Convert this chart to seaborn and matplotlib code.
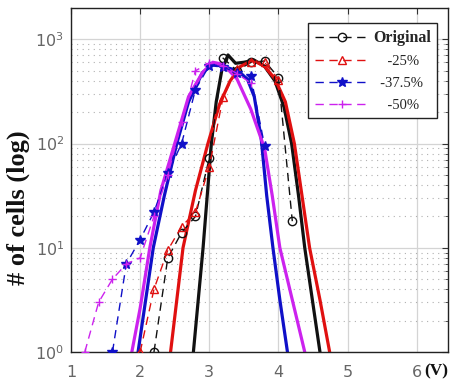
import numpy as np
import pandas as pd
import matplotlib
matplotlib.use("Agg")
import matplotlib.pyplot as plt
import matplotlib.ticker as mticker
import seaborn as sns

# Histogram counts per 0.2 V bin (dashed lines with markers)
orig_v = [2.2, 2.4, 2.6, 2.8, 3.0, 3.2, 3.4, 3.6, 3.8, 4.0, 4.2]
orig_n = [1, 8, 14, 20, 73, 660, 500, 600, 620, 430, 18]

m25_v = [2.0, 2.2, 2.4, 2.6, 2.8, 3.0, 3.2, 3.4, 3.6, 3.8, 4.0]
m25_n = [1, 4, 9.5, 16, 22, 60, 280, 520, 610, 600, 410]

m375_v = [1.6, 1.8, 2.0, 2.2, 2.4, 2.6, 2.8, 3.0, 3.2, 3.4, 3.6, 3.8]
m375_n = [1, 7, 12, 22, 52, 100, 330, 560, 540, 480, 440, 95]

m50_v = [1.2, 1.4, 1.6, 1.8, 2.0, 2.2, 2.4, 2.6, 2.8, 3.0, 3.2, 3.4, 3.6]
m50_n = [1, 3, 5, 7, 8, 20, 50, 160, 500, 590, 560, 470, 380]

# Fitted distributions (solid lines), log10 of the count
fit_orig_v = [2.77, 2.84, 2.91, 2.97, 3.03, 3.10, 3.18, 3.27, 3.38, 3.50, 3.65, 3.80, 3.95, 4.08, 4.19, 4.29, 4.38, 4.49, 4.60]
fit_orig_l = [0.0, 0.5, 1.0, 1.5, 2.0, 2.4, 2.7, 2.85, 2.77, 2.78, 2.80, 2.74, 2.60, 2.35, 2.0, 1.5, 1.0, 0.5, 0.0]

fit_m25_v = [2.44, 2.53, 2.62, 2.80, 2.98, 3.15, 3.30, 3.45, 3.63, 3.80, 3.95, 4.10, 4.23, 4.34, 4.45, 4.60, 4.74]
fit_m25_l = [0.0, 0.5, 1.0, 1.55, 2.0, 2.38, 2.60, 2.74, 2.80, 2.74, 2.62, 2.40, 2.0, 1.5, 1.0, 0.5, 0.0]

fit_m375_v = [1.97, 2.08, 2.19, 2.35, 2.53, 2.70, 2.90, 3.05, 3.20, 3.40, 3.55, 3.65, 3.75, 3.83, 3.92, 4.02, 4.13]
fit_m375_l = [0.0, 0.5, 1.0, 1.5, 2.0, 2.4, 2.68, 2.76, 2.74, 2.70, 2.62, 2.45, 2.05, 1.5, 1.0, 0.5, 0.0]

fit_m50_v = [1.88, 2.00, 2.14, 2.30, 2.50, 2.70, 2.90, 3.05, 3.20, 3.40, 3.60, 3.80, 3.91, 4.02, 4.20, 4.38]
fit_m50_l = [0.0, 0.42, 1.0, 1.55, 2.0, 2.45, 2.68, 2.78, 2.76, 2.62, 2.33, 1.95, 1.5, 1.0, 0.5, 0.0]

labels = ["Original", "-25%", "-37.5%", "-50%"]
colors = ["#111111", "#e01010", "#1010c8", "#cc22ee"]
markers = ["o", "^", "*", "+"]

sns.set_style("white")
plt.rcParams["font.family"] = ["DejaVu Sans"]

fig = plt.figure(figsize=(4.52, 3.84), dpi=100)
ax = fig.add_axes([0.157, 0.0833, 0.834, 0.896])

fits = [(fit_orig_v, fit_orig_l), (fit_m25_v, fit_m25_l),
        (fit_m375_v, fit_m375_l), (fit_m50_v, fit_m50_l)]
data = [(orig_v, orig_n), (m25_v, m25_n), (m375_v, m375_n), (m50_v, m50_n)]

# solid fitted curves
for (fv, fl), c in zip(fits, colors):
    df = pd.DataFrame({"v": fv, "n": np.power(10.0, fl)})
    sns.lineplot(data=df, x="v", y="n", ax=ax, color=c, linewidth=2.3,
                 sort=False, legend=False, zorder=2)

# dashed histogram counts with markers
for (dv, dn), c, m, lab in zip(data, colors, markers, labels):
    df = pd.DataFrame({"v": dv, "n": dn})
    fill = c if m in ("*", "+") else "none"
    ax.plot(df["v"], df["n"], linestyle=(0, (6, 4)), linewidth=1.0, color=c,
            marker=m, markersize=6 if m != "*" else 7, markerfacecolor=fill,
            markeredgecolor=c, markeredgewidth=1.0, label=lab, zorder=3)

ax.set_yscale("log")
ax.set_xlim(1, 6.45)
ax.set_ylim(1, 2000)
ax.set_xticks([1, 2, 3, 4, 5, 6])
ax.yaxis.set_major_locator(mticker.LogLocator(base=10, numticks=10))
ax.yaxis.set_minor_locator(mticker.LogLocator(base=10, subs=np.arange(2, 10), numticks=20))
ax.yaxis.set_minor_formatter(mticker.NullFormatter())

ax.grid(True, which="major", axis="both", color="#d4d4d4", linewidth=0.9, linestyle="-")
ax.grid(True, which="minor", axis="y", color="#b0b0b0", linewidth=0.8, linestyle=(0, (1, 4)))
ax.set_axisbelow(True)

ax.tick_params(axis="both", which="both", direction="in", top=True, right=True,
               colors="#333333", labelcolor="#666666", labelsize=11.5)
ax.tick_params(which="major", length=4, width=0.8)
ax.tick_params(axis="x", which="major", pad=9)
ax.tick_params(axis="y", which="major", pad=5)
ax.tick_params(which="minor", length=2, width=0.6)
for s in ax.spines.values():
    s.set_color("#222222")
    s.set_linewidth(1.0)

ax.set_xlabel("")
ax.set_ylabel("# of cells (log)", fontfamily="Liberation Serif", fontweight="bold",
              fontsize=19, color="#111111")
ax.yaxis.set_label_coords(-0.108, 0.42)
fig.text(0.992, 0.032, "(V)", ha="right", va="center", fontfamily="Liberation Serif",
         fontweight="bold", fontsize=12.5, color="#111111")

leg = ax.legend(loc="upper right", bbox_to_anchor=(0.972, 0.955), frameon=True,
                fancybox=False, edgecolor="#222222", framealpha=1.0,
                handlelength=3.7, handletextpad=0.3, borderpad=0.45,
                borderaxespad=0.0, labelspacing=0.6,
                prop={"family": "Liberation Serif", "size": 10.5})
leg.get_frame().set_linewidth(1.0)
for i, t in enumerate(leg.get_texts()):
    if i == 0:
        t.set_fontweight("bold")
        t.set_fontsize(11.5)
    elif i == 2:
        t.set_text("  " + t.get_text())
    else:
        t.set_text("    " + t.get_text())

fig.savefig("out.png", dpi=100)
